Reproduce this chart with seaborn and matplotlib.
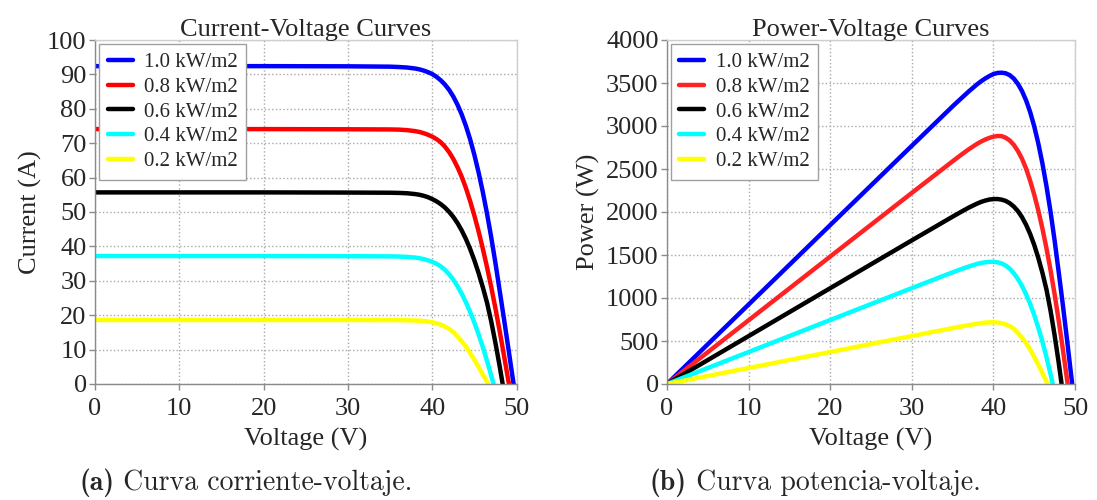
import matplotlib

matplotlib.use("Agg")
import matplotlib.pyplot as plt
import pandas as pd
import seaborn as sns

sns.set_theme(style="whitegrid")
plt.rcParams["font.family"] = ["Liberation Serif", "DejaVu Serif"]

labels = ["1.0 kW/m2", "0.8 kW/m2", "0.6 kW/m2", "0.4 kW/m2", "0.2 kW/m2"]
colors_iv = ["#0000ff", "#ff0000", "#000000", "#00ffff", "#ffff00"]
colors_pv = ["#0000ff", "#ff2222", "#000000", "#00ffff", "#ffff00"]

# voltage (V); each curve ends at its open-circuit voltage
v_common = [0, 10, 20, 30, 35, 36, 37, 38, 38.5, 39, 39.5, 40, 40.5, 41, 41.5,
            42, 42.5, 43, 43.5, 44, 44.5, 45, 45.5, 46, 46.5]
v_10 = v_common + [47, 47.5, 48, 48.5, 49, 49.5, 49.65]
v_08 = v_common + [47, 47.5, 48, 48.5, 49, 49.1]
v_06 = v_common + [47, 47.5, 48, 48.35]
v_04 = v_common + [47, 47.27]
v_02 = v_common + [46.64]

# current (A)
i_10 = [92.4, 92.4, 92.4, 92.35, 92.25, 92.15, 92.0, 91.7, 91.45, 91.1, 90.65, 90.1, 89.3,
        88.3, 87.05, 85.5, 83.55, 81.15, 78.3, 74.95, 71.05, 66.55, 61.45, 55.75, 49.45,
        42.55, 35.05, 27.05, 19.0, 10.8, 2.4, 0]
i_08 = [74.1, 74.1, 74.1, 74.05, 74.0, 73.95, 73.8, 73.5, 73.25, 72.9, 72.45, 71.9, 71.2,
        70.3, 69.0, 67.4, 65.4, 63.0, 60.2, 56.9, 53.1, 48.9, 44.3, 39.3, 33.9,
        28.1, 21.9, 15.3, 8.4, 1.3, 0]
i_06 = [55.7, 55.7, 55.7, 55.65, 55.6, 55.55, 55.45, 55.2, 55.0, 54.7, 54.3, 53.75, 53.1,
        52.3, 51.3, 50.05, 48.55, 46.75, 44.6, 42.1, 39.2, 35.9, 32.2, 28.1, 23.6,
        18.1, 11.85, 5.1, 0]
i_04 = [37.2, 37.2, 37.2, 37.15, 37.1, 37.05, 36.95, 36.75, 36.55, 36.3, 35.95, 35.5, 34.95,
        34.2, 33.2, 31.9, 30.3, 28.4, 26.2, 23.7, 20.9, 17.8, 14.4, 10.7, 6.7,
        2.4, 0]
i_02 = [18.6, 18.6, 18.6, 18.6, 18.58, 18.56, 18.52, 18.45, 18.4, 18.3, 18.15, 17.95, 17.65,
        17.25, 16.7, 16.0, 15.1, 13.8, 12.4, 10.8, 9.0, 7.0, 4.9, 2.75, 0.6,
        0]

# power (W)
p_10 = [0, 924, 1848, 2770, 3229, 3317, 3404, 3485, 3521, 3553, 3581, 3604, 3617,
        3620, 3613, 3591, 3551, 3489, 3406, 3298, 3162, 2995, 2796, 2564, 2299,
        2000, 1665, 1298, 922, 529, 119, 0]
p_08 = [0, 741, 1482, 2222, 2590, 2662, 2731, 2793, 2820, 2843, 2862, 2876, 2884,
        2882, 2864, 2831, 2780, 2709, 2619, 2504, 2363, 2201, 2016, 1808, 1576,
        1321, 1040, 734, 407, 64, 0]
p_06 = [0, 557, 1114, 1670, 1946, 2000, 2052, 2098, 2118, 2133, 2145, 2150, 2151,
        2144, 2129, 2102, 2063, 2010, 1940, 1852, 1744, 1616, 1465, 1293, 1097,
        851, 563, 245, 0]
p_04 = [0, 372, 744, 1115, 1299, 1334, 1367, 1397, 1407, 1416, 1420, 1420, 1415,
        1402, 1378, 1340, 1288, 1221, 1140, 1043, 930, 801, 655, 492, 312,
        113, 0]
p_02 = [0, 186, 372, 558, 650, 668, 685, 701, 708, 714, 717, 718, 715,
        707, 693, 672, 642, 593, 539, 475, 400, 315, 223, 127, 28,
        0]

volts = [v_10, v_08, v_06, v_04, v_02]
currents = [i_10, i_08, i_06, i_04, i_02]
powers = [p_10, p_08, p_06, p_04, p_02]

rows = []
for lab, v, i, p in zip(labels, volts, currents, powers):
    for vv, ii, pp in zip(v, i, p):
        rows.append({"irr": lab, "V": vv, "I": ii, "P": pp})
df = pd.DataFrame(rows)

fig = plt.figure(figsize=(10.97, 5.0), dpi=100)
ax1 = fig.add_axes([0.0866, 0.232, 0.3843, 0.688])
ax2 = fig.add_axes([0.608, 0.232, 0.372, 0.688])


def style_axes(ax):
    ax.grid(True, linestyle=":", color="#a8a8a8", linewidth=1.0)
    ax.set_facecolor("white")
    for side in ["left", "bottom"]:
        ax.spines[side].set_color("#8a8a8a")
        ax.spines[side].set_linewidth(1.0)
    for side in ["top", "right"]:
        ax.spines[side].set_color("#cfcfcf")
        ax.spines[side].set_linewidth(1.0)
    ax.tick_params(axis="both", direction="out", length=4, width=1, color="#8a8a8a",
                   labelsize=19, bottom=True, left=True)
    ax.tick_params(axis="y", pad=2)
    ax.tick_params(axis="x", pad=6)
    ax.set_xlim(0, 50)
    ax.set_xticks([0, 10, 20, 30, 40, 50])
    ax.set_xlabel("Voltage (V)", fontsize=19, labelpad=6)
    ax.legend(loc="upper left", fontsize=15, frameon=True, fancybox=False,
              edgecolor="#a0a0a0", framealpha=1, handlelength=1.2,
              handletextpad=0.55, labelspacing=0.25, borderpad=0.4,
              borderaxespad=0.2)


for lab, col in zip(labels, colors_iv):
    sub = df[df["irr"] == lab]
    sns.lineplot(data=sub, x="V", y="I", color=col, lw=3.2, label=lab,
                 sort=False, estimator=None, ax=ax1)
for lab, col in zip(labels, colors_pv):
    sub = df[df["irr"] == lab]
    sns.lineplot(data=sub, x="V", y="P", color=col, lw=3.2, label=lab,
                 sort=False, estimator=None, ax=ax2)

style_axes(ax1)
ax1.set_ylim(0, 100)
ax1.set_yticks(range(0, 101, 10))
ax1.set_ylabel("Current (A)", fontsize=19, labelpad=4)
ax1.set_title("Current-Voltage Curves", fontsize=19, pad=3)

style_axes(ax2)
ax2.set_ylim(0, 4000)
ax2.set_yticks(range(0, 4001, 500))
ax2.set_ylabel("Power (W)", fontsize=19, labelpad=4)
ax2.set_title("Power-Voltage Curves", fontsize=19, pad=3)

# sub-captions: bold tag followed by regular text, centred as one line
renderer = fig.canvas.get_renderer()
fig_w = fig.get_figwidth() * fig.dpi
for tag, text, centre in [("(a)", " Curva corriente-voltaje.", 0.2243),
                          ("(b)", " Curva potencia-voltaje.", 0.743)]:
    t1 = fig.text(0, 0.034, tag, ha="left", va="center", fontsize=20, family="cmb10")
    t2 = fig.text(0, 0.034, text, ha="left", va="center", fontsize=20, family="cmr10")
    w1 = t1.get_window_extent(renderer).width / fig_w
    w2 = t2.get_window_extent(renderer).width / fig_w
    x0 = centre - (w1 + w2) / 2
    t1.set_x(x0)
    t2.set_x(x0 + w1)

fig.savefig("out.png", dpi=100)
